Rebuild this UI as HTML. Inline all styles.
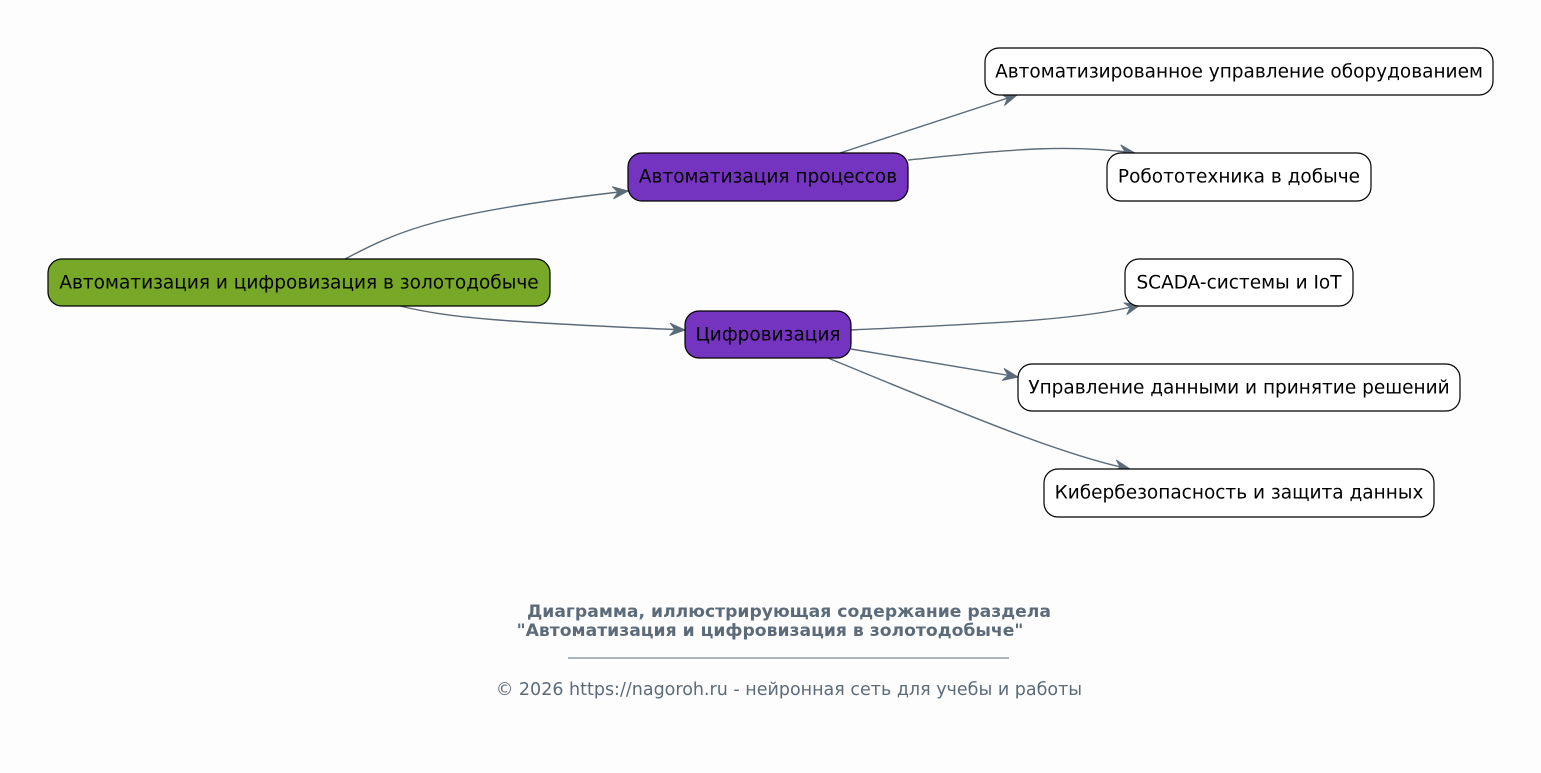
<!DOCTYPE html>
<html><head><meta charset="utf-8"><style>
html,body{margin:0;padding:0;background:#fdfdfd;}
svg{display:block;font-family:"DejaVu Sans","Liberation Sans",sans-serif;}
</style></head><body>
<svg width="1541" height="773" viewBox="0 0 1541 773" xmlns="http://www.w3.org/2000/svg">
<defs>
<marker id="a" markerWidth="20" markerHeight="14" refX="17" refY="7" orient="auto" markerUnits="userSpaceOnUse">
<path d="M2,1 L17,7 L2,13 L7,7 Z" fill="#5c6b7a" stroke="#5c6b7a" stroke-width="1" stroke-linejoin="round"/>
</marker>
</defs>
<rect width="1541" height="773" fill="#fdfdfd"/>
<g fill="none" stroke="#5c6b7a" stroke-width="1.4" marker-end="url(#a)">
<path d="M345,259 C400,230 440,212 628,191"/>
<path d="M400,306 C450,318 500,322 685,330"/>
<path d="M840,153 L1017,95"/>
<path d="M908,160 C1000,151 1060,143 1135,153"/>
<path d="M851,330 C1000,323 1080,320 1140,305"/>
<path d="M851,349 L1018,377"/>
<path d="M828,358 C950,408 1060,455 1130,469"/>
</g>
<g stroke="#000" stroke-width="1.2" fill="#000">
<rect x="48" y="259" width="502" height="47" rx="14" fill="#77a828"/>
<rect x="628" y="153" width="280" height="48" rx="14" fill="#7434c0"/>
<rect x="685" y="311" width="166" height="47" rx="14" fill="#7434c0"/>
<rect x="985" y="48" width="508" height="47" rx="14" fill="#fff"/>
<rect x="1107" y="153" width="264" height="48" rx="14" fill="#fff"/>
<rect x="1125" y="259" width="228" height="47" rx="14" fill="#fff"/>
<rect x="1018" y="364" width="442" height="47" rx="14" fill="#fff"/>
<rect x="1044" y="469" width="390" height="48" rx="14" fill="#fff"/>
</g>
<g font-size="18.5" text-anchor="middle" fill="#000">
<text x="299" y="288.5">Автоматизация и цифровизация в золотодобыче</text>
<text x="768" y="182.5">Автоматизация процессов</text>
<text x="768" y="340.5">Цифровизация</text>
<text x="1239" y="77.5">Автоматизированное управление оборудованием</text>
<text x="1239" y="182.5">Робототехника в добыче</text>
<text x="1239" y="288.5">SCADA-системы и IoT</text>
<text x="1239" y="393.5">Управление данными и принятие решений</text>
<text x="1239" y="498.5">Кибербезопасность и защита данных</text>
</g>
<g fill="#5c6b7a" text-anchor="middle">
<text x="789" y="617" font-size="17.2" font-weight="bold">Диаграмма, иллюстрирующая содержание раздела</text>
<text x="770" y="636" font-size="17.2" font-weight="bold">"Автоматизация и цифровизация в золотодобыче"</text>
<line x1="568" y1="658" x2="1009" y2="658" stroke="#5c6b7a" stroke-width="1"/>
<text x="789" y="695" font-size="17.5">© 2026 https://nagoroh.ru - нейронная сеть для учебы и работы</text>
</g>
</svg>
</body></html>
